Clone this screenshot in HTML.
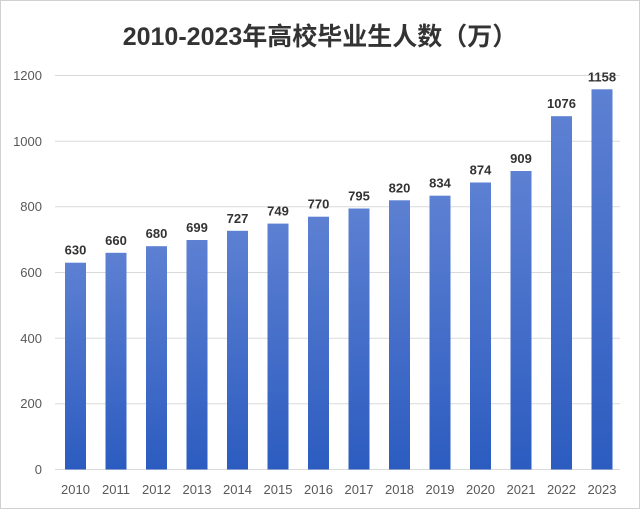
<!DOCTYPE html><html><head><meta charset="utf-8"><style>body{margin:0;background:#fff}</style></head><body>
<svg width="640" height="510" xmlns="http://www.w3.org/2000/svg" font-family="Liberation Sans, Noto Sans CJK SC, sans-serif">
<defs><linearGradient id="g" x1="0" y1="0" x2="0" y2="1"><stop offset="0" stop-color="#5d80d2"/><stop offset="1" stop-color="#2c5cc0"/></linearGradient></defs>
<rect x="0.5" y="0.5" width="639" height="508" fill="#fff" stroke="#d0d0d0"/>
<text x="320" y="45" text-anchor="middle" font-size="25" font-weight="bold" fill="#333">2010-2023年高校毕业生人数（万）</text>
<g stroke="#dadada" stroke-width="1">
<line x1="55" x2="620" y1="469.5" y2="469.5"/><line x1="55" x2="620" y1="403.8" y2="403.8"/><line x1="55" x2="620" y1="338.2" y2="338.2"/><line x1="55" x2="620" y1="272.5" y2="272.5"/><line x1="55" x2="620" y1="206.8" y2="206.8"/><line x1="55" x2="620" y1="141.2" y2="141.2"/><line x1="55" x2="620" y1="75.5" y2="75.5"/></g>
<g font-size="13" fill="#595959" text-anchor="end">
<text x="42" y="474">0</text><text x="42" y="408">200</text><text x="42" y="343">400</text><text x="42" y="277">600</text><text x="42" y="211">800</text><text x="42" y="146">1000</text><text x="42" y="80">1200</text></g>
<g fill="url(#g)">
<rect x="65" y="262.7" width="21" height="206.8"/>
<rect x="105.5" y="252.8" width="21" height="216.7"/>
<rect x="146" y="246.2" width="21" height="223.3"/>
<rect x="186.5" y="240" width="21" height="229.5"/>
<rect x="227" y="230.8" width="21" height="238.7"/>
<rect x="267.5" y="223.6" width="21" height="245.9"/>
<rect x="308" y="216.7" width="21" height="252.8"/>
<rect x="348.5" y="208.5" width="21" height="261"/>
<rect x="389" y="200.3" width="21" height="269.2"/>
<rect x="429.5" y="195.7" width="21" height="273.8"/>
<rect x="470" y="182.5" width="21" height="287"/>
<rect x="510.5" y="171" width="21" height="298.5"/>
<rect x="551" y="116.2" width="21" height="353.3"/>
<rect x="591.5" y="89.3" width="21" height="380.2"/>
</g>
<g font-size="13" font-weight="bold" fill="#333" text-anchor="middle">
<text x="75.5" y="254.7">630</text>
<text x="116" y="244.8">660</text>
<text x="156.5" y="238.2">680</text>
<text x="197" y="232">699</text>
<text x="237.5" y="222.8">727</text>
<text x="278" y="215.6">749</text>
<text x="318.5" y="208.7">770</text>
<text x="359" y="200.5">795</text>
<text x="399.5" y="192.3">820</text>
<text x="440" y="187.7">834</text>
<text x="480.5" y="174.5">874</text>
<text x="521" y="163">909</text>
<text x="561.5" y="108.2">1076</text>
<text x="602" y="81.3">1158</text>
</g>
<g font-size="13" fill="#595959" text-anchor="middle">
<text x="75.5" y="494">2010</text><text x="116" y="494">2011</text><text x="156.5" y="494">2012</text><text x="197" y="494">2013</text><text x="237.5" y="494">2014</text><text x="278" y="494">2015</text><text x="318.5" y="494">2016</text><text x="359" y="494">2017</text><text x="399.5" y="494">2018</text><text x="440" y="494">2019</text><text x="480.5" y="494">2020</text><text x="521" y="494">2021</text><text x="561.5" y="494">2022</text><text x="602" y="494">2023</text>
</g>
</svg></body></html>
